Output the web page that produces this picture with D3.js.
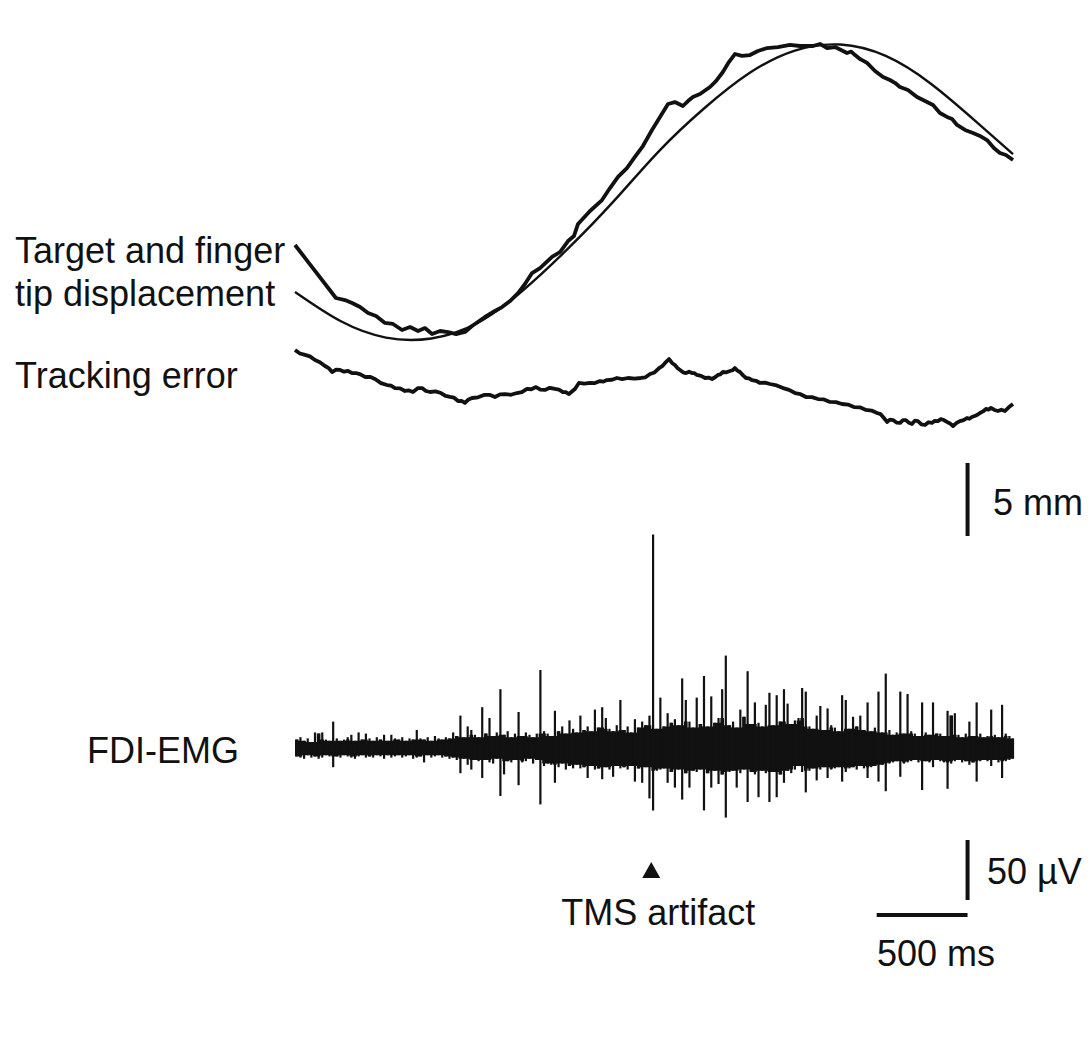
<!DOCTYPE html>
<html>
<head>
<meta charset="utf-8">
<script src="https://cdn.jsdelivr.net/npm/d3@7"></script>
<style>
  body { margin: 0; background: #fff; }
  svg text { font-family: "Liberation Sans", Arial, Helvetica, sans-serif; font-size: 36px; fill: #111; }
</style>
</head>
<body>
<div id="chart"></div>
<script>
// ---- data (time in ms, displacement in mm, EMG in µV) ----
var targetT  = [0, 250, 500, 750, 1000, 1250, 1500, 1750, 2000, 2250, 2500, 2750, 3000, 3250, 3500, 3750, 3950];
var targetMm = [-6.85, -8.84, -9.97, -10.03, -9.0, -6.78, -3.9, -0.68, 2.77, 5.72, 8.15, 9.69, 10.1, 9.32, 7.4, 4.79, 2.6];

var finger = [
  [0,-3.63],[94,-5.14],[204,-6.92],[225,-7.26],[275,-7.40],[314,-7.60],[358,-7.88],[402,-8.29],[446,-8.49],
  [495,-8.97],[539,-9.04],[589,-9.45],[633,-9.25],[677,-9.52],[715,-9.32],[754,-9.73],[798,-9.52],[842,-9.59],
  [886,-9.73],[935,-9.59],[974,-9.18],[1045,-8.56],[1100,-8.15],[1139,-7.88],[1183,-7.47],[1227,-6.92],
  [1265,-6.30],[1304,-5.55],[1348,-5.21],[1414,-4.45],[1458,-4.11],[1502,-3.36],[1535,-3.01],[1557,-2.19],
  [1623,-1.30],[1689,-0.55],[1733,0.27],[1777,1.03],[1826,1.64],[1870,2.40],[1914,3.15],[1964,4.25],
  [2008,5.14],[2052,6.03],[2090,6.16],[2134,5.89],[2162,6.23],[2189,6.51],[2228,6.71],[2283,7.19],
  [2316,7.60],[2354,8.22],[2387,8.90],[2420,9.45],[2459,9.32],[2503,9.38],[2547,9.66],[2597,9.86],
  [2657,9.93],[2723,10.07],[2778,10.0],[2850,10.0],[2888,10.14],[2927,9.86],[2971,9.93],[3037,9.52],
  [3060,9.62],[3081,9.38],[3108,9.11],[3125,9.0],[3147,8.84],[3191,8.29],[3235,7.88],[3273,7.67],
  [3300,7.48],[3328,7.19],[3372,6.99],[3422,6.51],[3466,6.23],[3510,5.96],[3548,5.41],[3587,5.14],
  [3615,5.0],[3642,4.59],[3686,4.25],[3730,4.04],[3768,3.84],[3807,3.56],[3845,3.01],[3878,2.67],
  [3911,2.53],[3950,2.19]
];

var trackErr = [
  [0,3.29],[27,3.05],[55,2.95],[82,2.85],[110,2.60],[137,2.45],[165,2.19],[185,2.05],[204,1.78],[226,1.95],
  [248,1.92],[270,1.80],[292,1.85],[314,1.70],[336,1.71],[360,1.62],[385,1.44],[412,1.45],[440,1.30],[473,1.02],
  [506,0.89],[528,0.85],[550,0.68],[578,0.66],[605,0.48],[627,0.52],[649,0.41],[677,0.68],[699,0.68],[720,0.48],
  [743,0.41],[773,0.45],[803,0.34],[828,0.14],[853,0.07],[875,0.02],[897,-0.21],[916,-0.20],[935,-0.34],[955,-0.10],
  [974,0.0],[1007,0.05],[1040,0.21],[1070,0.22],[1100,0.07],[1128,0.25],[1155,0.27],[1188,0.22],[1221,0.34],[1248,0.40],
  [1276,0.62],[1300,0.60],[1326,0.75],[1350,0.58],[1375,0.55],[1402,0.70],[1430,0.62],[1452,0.58],[1474,0.41],[1490,0.40],
  [1507,0.27],[1540,0.62],[1562,1.03],[1592,0.98],[1623,1.03],[1650,1.02],[1678,1.16],[1697,1.12],[1716,1.23],[1744,1.25],
  [1771,1.37],[1800,1.30],[1832,1.37],[1868,1.32],[1903,1.37],[1928,1.42],[1953,1.64],[1978,1.75],[2003,2.05],[2020,2.18],
  [2036,2.40],[2058,2.67],[2074,2.40],[2090,2.26],[2104,2.05],[2118,1.92],[2135,1.76],[2151,1.71],[2168,1.80],[2184,1.71],
  [2198,1.70],[2211,1.58],[2234,1.52],[2256,1.37],[2275,1.40],[2294,1.30],[2311,1.42],[2327,1.58],[2340,1.62],[2354,1.78],
  [2374,1.76],[2393,1.85],[2407,1.90],[2420,2.05],[2434,1.88],[2448,1.78],[2465,1.55],[2481,1.37],[2498,1.35],[2514,1.23],
  [2536,1.18],[2558,1.03],[2586,1.05],[2613,0.96],[2650,0.86],[2685,0.68],[2718,0.56],[2751,0.34],[2781,0.26],[2811,0.07],
  [2844,0.06],[2877,-0.07],[2910,-0.10],[2943,-0.27],[2976,-0.28],[3009,-0.41],[3042,-0.45],[3075,-0.62],[3108,-0.64],[3141,-0.82],
  [3172,-0.86],[3202,-1.03],[3221,-1.10],[3240,-1.37],[3257,-1.64],[3273,-1.48],[3290,-1.51],[3309,-1.68],[3328,-1.71],[3345,-1.52],
  [3361,-1.51],[3378,-1.70],[3394,-1.78],[3410,-1.55],[3427,-1.58],[3446,-1.80],[3466,-1.85],[3485,-1.66],[3504,-1.71],[3520,-1.56],
  [3537,-1.58],[3553,-1.45],[3570,-1.51],[3584,-1.62],[3598,-1.71],[3610,-1.80],[3620,-1.92],[3640,-1.70],[3658,-1.58],[3678,-1.52],
  [3697,-1.37],[3710,-1.42],[3724,-1.30],[3746,-1.20],[3768,-1.03],[3785,-0.92],[3801,-0.75],[3815,-0.80],[3829,-0.68],[3848,-0.82],
  [3867,-0.89],[3886,-0.80],[3906,-0.89],[3928,-0.62],[3950,-0.41]
];

// EMG: one upward and one downward excursion per 20 ms bin
var emgBinMs = 20;
var emgUp = [
  7,9,6,8,5,13,12,13,7,6,      22,8,6,7,9,11,6,13,7,12,
  8,6,9,7,11,6,11,8,7,9,       6,8,7,15,8,7,9,6,10,8,
  7,9,8,13,10,27,9,18,15,11,   9,34,12,25,10,13,49,11,14,9,
  12,30,10,13,11,9,12,65,14,12, 10,31,14,18,12,23,16,13,27,15,
  18,14,32,17,34,25,16,14,19,40, 15,18,13,24,17,22,19,27,178,16,
  42,18,29,21,24,19,58,40,22,17, 42,20,60,18,43,21,25,49,77,19,
  22,17,32,26,64,20,38,21,18,36, 46,19,44,22,49,37,20,23,25,50,
  47,18,16,27,35,15,33,19,17,14, 44,40,16,26,18,27,15,38,14,17,
  47,13,62,15,11,13,47,12,45,14, 12,10,38,13,11,38,12,12,10,31,
  27,29,11,9,12,22,10,38,12,9,   10,32,11,9,36,12,10,8
];
var emgDown = [
  7,8,9,6,8,7,9,8,6,7,         16,7,8,6,7,8,9,7,6,8,
  7,8,6,7,9,6,8,7,6,8,         7,6,9,8,7,12,6,8,7,6,
  8,7,9,8,10,21,9,14,18,10,    11,25,10,12,13,9,40,22,11,12,
  10,31,12,11,9,13,10,47,15,13, 14,29,16,13,18,15,17,14,17,16,
  25,15,18,17,26,16,18,24,15,17, 16,18,15,28,17,29,16,42,52,19,
  18,17,29,20,33,18,43,21,33,19, 20,18,52,21,33,19,30,22,58,20,
  19,33,21,18,45,20,22,41,19,21, 45,20,41,22,29,19,21,18,15,20,
  37,19,17,27,18,16,25,18,17,16, 28,20,17,16,18,15,17,25,16,15,
  28,14,36,13,12,11,24,13,12,11, 10,12,35,11,12,16,10,11,12,34,
  13,11,10,12,11,14,12,28,11,10, 11,15,10,12,25,11,10,9
];

var tmsTime = 1960;          // ms, TMS pulse
var scaleBarMm = 5;
var scaleBarUv = 50;
var scaleBarMs = 500;

// ---- layout ----
var W = 1092, H = 1059;
var svg = d3.select("#chart").append("svg")
  .attr("width", W).attr("height", H);

var x = d3.scaleLinear().domain([0, 3950]).range([295, 1013]);
var yPos = d3.scaleLinear().domain([0, 10]).range([192, 46]);      // 14.6 px / mm
var yErr = d3.scaleLinear().domain([0, 10]).range([398, 252]);
var yEmg = d3.scaleLinear().domain([0, 50]).range([748, 688]);     // 1.2 px / µV

var target = targetT.map(function (t, i) { return [t, targetMm[i]]; });

// target sine
svg.append("path")
  .datum(target)
  .attr("fill", "none").attr("stroke", "#111").attr("stroke-width", 2.4)
  .attr("d", d3.line().curve(d3.curveNatural)
    .x(function (d) { return x(d[0]); })
    .y(function (d) { return yPos(d[1]); }));

// finger tip
svg.append("path")
  .datum(finger)
  .attr("fill", "none").attr("stroke", "#111").attr("stroke-width", 3.8)
  .attr("stroke-linejoin", "round")
  .attr("d", d3.line()
    .x(function (d) { return x(d[0]); })
    .y(function (d) { return yPos(d[1]); }));

// tracking error
svg.append("path")
  .datum(trackErr)
  .attr("fill", "none").attr("stroke", "#111").attr("stroke-width", 3.8)
  .attr("stroke-linejoin", "round")
  .attr("d", d3.line()
    .x(function (d) { return x(d[0]); })
    .y(function (d) { return yErr(d[1]); }));

// EMG: solid core (local minimum of neighbouring bins) + one vertical stroke per bin
function localMin(arr, i) {
  return d3.min([arr[Math.max(0, i - 1)], arr[i], arr[Math.min(arr.length - 1, i + 1)]]);
}
var core = emgUp.map(function (u, i) {
  return { t: i * emgBinMs, up: localMin(emgUp, i), dn: localMin(emgDown, i) };
});
core.push({ t: 3950, up: core[core.length - 1].up, dn: core[core.length - 1].dn });
svg.append("path")
  .datum(core)
  .attr("fill", "#111")
  .attr("d", d3.area().curve(d3.curveStepAfter)
    .x(function (d) { return x(d.t); })
    .y0(function (d) { return yEmg(-d.dn); })
    .y1(function (d) { return yEmg(d.up); }));

var emg = emgUp.map(function (u, i) {
  return { t: i * emgBinMs + emgBinMs / 2, up: u, dn: emgDown[i] };
});
svg.append("g")
  .selectAll("line")
  .data(emg)
  .enter()
  .append("line")
    .attr("x1", function (d) { return x(d.t); })
    .attr("x2", function (d) { return x(d.t); })
    .attr("y1", function (d) { return yEmg(d.up); })
    .attr("y2", function (d) { return yEmg(-d.dn); })
    .attr("stroke", "#111").attr("stroke-width", 2.2);

// TMS marker
var tx = x(tmsTime);
svg.append("path")
  .attr("d", "M" + tx + ",862L" + (tx - 9) + ",878L" + (tx + 9) + ",878Z")
  .attr("fill", "#111");
svg.append("text").attr("x", tx + 7).attr("y", 925)
  .attr("text-anchor", "middle").text("TMS artifact");

// scale bars
var barX = x(3700);
svg.append("line")
  .attr("x1", barX).attr("x2", barX)
  .attr("y1", 463).attr("y2", 463 + (yPos(0) - yPos(scaleBarMm)))
  .attr("stroke", "#111").attr("stroke-width", 4);
svg.append("text").attr("x", 993).attr("y", 515).text("5 mm");

svg.append("line")
  .attr("x1", barX).attr("x2", barX)
  .attr("y1", 840).attr("y2", 840 + (yEmg(0) - yEmg(scaleBarUv)))
  .attr("stroke", "#111").attr("stroke-width", 4);
svg.append("text").attr("x", 987).attr("y", 884).text("50 µV");

svg.append("line")
  .attr("x1", x(3700 - scaleBarMs)).attr("x2", barX)
  .attr("y1", 915).attr("y2", 915)
  .attr("stroke", "#111").attr("stroke-width", 4);
svg.append("text").attr("x", 877).attr("y", 966).text("500 ms");

// trace labels
svg.append("text").attr("x", 15).attr("y", 263).text("Target and finger");
svg.append("text").attr("x", 15).attr("y", 306).text("tip displacement");
svg.append("text").attr("x", 15).attr("y", 388).text("Tracking error");
svg.append("text").attr("x", 87).attr("y", 763).text("FDI-EMG");
</script>
</body>
</html>
